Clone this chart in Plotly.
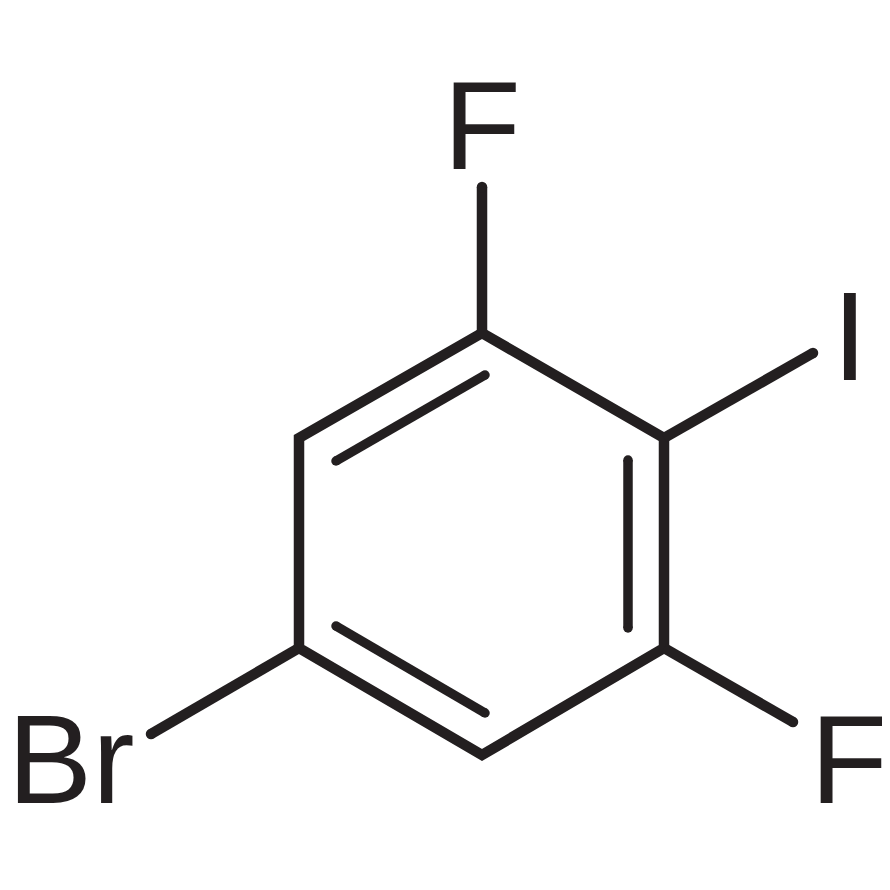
import plotly.graph_objects as go

# ring outline, closed
ring_x = [482, 664, 664, 482, 299, 299, 482]
ring_y = [333, 438, 648, 755, 648, 438, 333]

# inner lines of the double bonds
double_bonds = [
    ([336, 485], [461, 375]),
    ([628, 628], [460, 628]),
    ([336, 485], [626, 713]),
]

# ring to substituent bonds
subst_bonds = [
    ([482, 482], [333, 187]),
    ([664, 813], [438, 353]),
    ([664, 793], [648, 722]),
    ([299, 151], [648, 734]),
]

atom_labels = ["F", "I", "F", "Br"]
atom_x = [482, 850, 849, 71]
atom_y = [137, 348, 771, 771]

INK = "#231f20"
BOND_WIDTH = 10.5
INNER_WIDTH = 9.5

fig = go.Figure()

fig.add_trace(go.Scatter(x=ring_x, y=ring_y, mode="lines",
                         line=dict(color=INK, width=BOND_WIDTH)))

# markers give the free bond ends their round caps
for xs, ys in double_bonds:
    fig.add_trace(go.Scatter(x=xs, y=ys, mode="lines+markers",
                             line=dict(color=INK, width=INNER_WIDTH),
                             marker=dict(color=INK, size=INNER_WIDTH)))

for xs, ys in subst_bonds:
    fig.add_trace(go.Scatter(x=xs, y=ys, mode="lines+markers",
                             line=dict(color=INK, width=BOND_WIDTH),
                             marker=dict(color=INK, size=[0, BOND_WIDTH], opacity=1,
                                         line=dict(width=0))))

fig.add_trace(go.Scatter(x=atom_x, y=atom_y, mode="text", text=atom_labels,
                         textposition="middle center",
                         textfont=dict(family="Liberation Sans", size=127, color=INK),
                         cliponaxis=False))

# the page body has an 8px margin, so the figure starts at (8, 8)
fig.update_layout(
    width=882,
    height=882,
    margin=dict(l=0, r=0, t=0, b=0),
    showlegend=False,
    paper_bgcolor="white",
    plot_bgcolor="white",
    xaxis=dict(range=[8, 890], visible=False),
    yaxis=dict(range=[890, 8], visible=False),
)

fig.write_html("out.html")
